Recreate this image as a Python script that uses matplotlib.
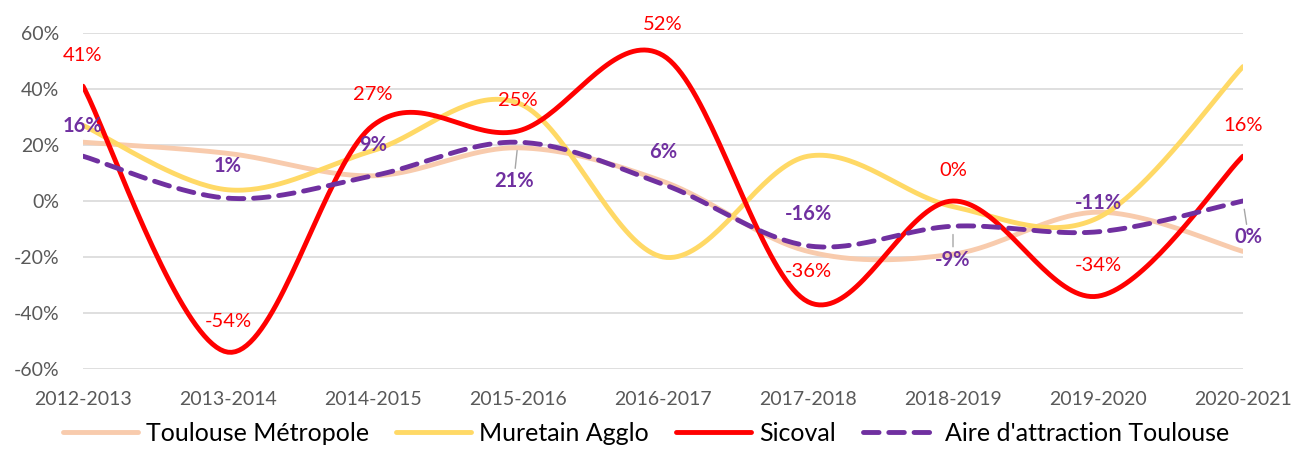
import numpy as np
import matplotlib
matplotlib.use("Agg")
import matplotlib.pyplot as plt

plt.rcParams['font.family'] = ['Lato', 'DejaVu Sans']

annees = ['2012-2013', '2013-2014', '2014-2015', '2015-2016', '2016-2017',
          '2017-2018', '2018-2019', '2019-2020', '2020-2021']
toulouse = [21, 17, 9, 19, 7, -18, -19, -4, -18]
muretain = [27, 4, 18, 35, -20, 16, -2, -6, 48]
sicoval = [41, -54, 27, 25, 52, -36, 0, -34, 16]
aire = [16, 1, 9, 21, 6, -16, -9, -11, 0]

# position des etiquettes (decalage en points) pour l'aire d'attraction
aire_offsets = [(0, 22), (0, 23), (0, 22), (-3, -28), (0, 23),
                (0, 23), (0, -24), (0, 21), (4, -26)]
aire_leader = [False, False, False, True, False, False, True, False, True]


def lisse(y, n=40):
    # courbe lissee type Excel (Bezier / Catmull-Rom)
    y = np.asarray(y, float)
    x = np.arange(len(y), dtype=float)
    m = len(y)
    xs, ys = [], []
    t = np.linspace(0, 1, n)
    for i in range(m - 1):
        a = max(i - 1, 0)
        b = min(i + 2, m - 1)
        p0 = np.array([x[i], y[i]])
        p3 = np.array([x[i + 1], y[i + 1]])
        p1 = p0 + (np.array([x[i + 1], y[i + 1]]) - np.array([x[a], y[a]])) / 6
        p2 = p3 - (np.array([x[b], y[b]]) - np.array([x[i], y[i]])) / 6
        pts = (np.outer((1 - t) ** 3, p0) + np.outer(3 * (1 - t) ** 2 * t, p1)
               + np.outer(3 * (1 - t) * t ** 2, p2) + np.outer(t ** 3, p3))
        xs.extend(pts[:, 0])
        ys.extend(pts[:, 1])
    return np.array(xs), np.array(ys)


fig = plt.figure(figsize=(12.93, 4.5), dpi=100)
ax = fig.add_axes([83 / 1293, 1 - 369 / 450, 1160 / 1293, 336 / 450])

lw = 3.5
x, y = lisse(toulouse)
ax.plot(x, y, color='#F8CBAD', lw=lw, solid_capstyle='round', label='Toulouse Métropole')
x, y = lisse(muretain)
ax.plot(x, y, color='#FFD966', lw=lw, solid_capstyle='round', label='Muretain Agglo')
x, y = lisse(sicoval)
ax.plot(x, y, color='#FF0000', lw=lw, solid_capstyle='round', label='Sicoval')
x, y = lisse(aire)
ax.plot(x, y, color='#7030A0', lw=lw, dashes=(3.2, 2.0), dash_capstyle='round',
        label="Aire d'attraction Toulouse")

for i, v in enumerate(sicoval):
    ax.annotate(f'{v}%', (i, v), xytext=(0, 22), textcoords='offset points',
                ha='center', va='center', color='#FF0000', fontsize=14.5)

for i, v in enumerate(aire):
    props = None
    if aire_leader[i]:
        props = dict(arrowstyle='-', color='#A6A6A6', lw=1, shrinkA=0, shrinkB=6)
    ax.annotate(f'{v}%', (i, v), xytext=aire_offsets[i], textcoords='offset points',
                ha='center', va='center', color='#7030A0', fontsize=14.5,
                fontweight='bold', arrowprops=props)

ax.set_xlim(0, len(annees) - 1)
ax.set_ylim(-60, 60)
ax.set_yticks(np.arange(-60, 61, 20))
ax.set_yticklabels([f'{v}%' for v in range(-60, 61, 20)])
ax.set_xticks(range(len(annees)))
ax.set_xticklabels(annees)
ax.tick_params(axis='y', length=0, pad=17, labelsize=14, labelcolor='#595959')
ax.tick_params(axis='x', length=0, pad=16, labelsize=14, labelcolor='#595959')
ax.grid(axis='y', color='#D9D9D9', lw=1.2)
ax.set_axisbelow(True)
for s in ax.spines.values():
    s.set_visible(False)

fig.legend(loc='center', bbox_to_anchor=(0.5, 0.037), ncol=4, frameon=False,
           fontsize=18, handlelength=3.0, columnspacing=1.1, handletextpad=0.3,
           labelcolor='black', borderpad=0.1)

fig.savefig('out.png', dpi=100)
